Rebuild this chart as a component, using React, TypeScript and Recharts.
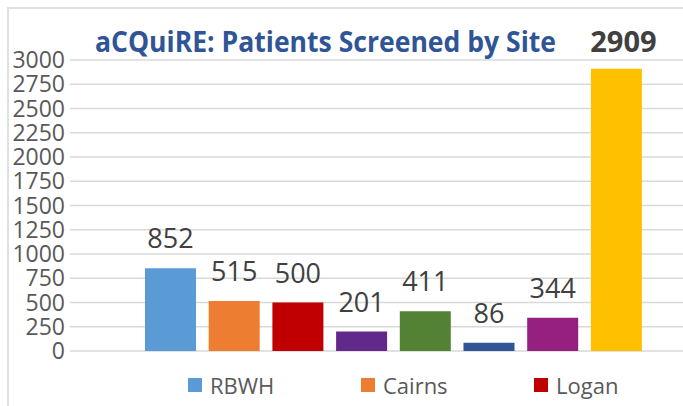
import { BarChart, Bar, XAxis, YAxis, CartesianGrid, LabelList, Legend } from "recharts";

// only the first three sites are visible in the legend, the rest run off the right edge
const sites = ["RBWH", "Cairns", "Logan", "Site 4", "Site 5", "Site 6", "Site 7", "Total"];
const screened = [852, 515, 500, 201, 411, 86, 344, 2909];
const siteColors = ["#5B9BD5", "#ED7D31", "#C00000", "#60298A", "#548235", "#2F5597", "#95207F", "#FFC000"];
const yTicks = [0, 250, 500, 750, 1000, 1250, 1500, 1750, 2000, 2250, 2500, 2750, 3000];

const row: Record<string, string | number> = { group: "Screened" };
sites.forEach((s, i) => {
  row[s] = screened[i];
});
const chartData = [row];

const font = "'Open Sans', 'Noto Sans', sans-serif";

// keep the series order (recharts sorts legend items by name otherwise)
const SiteLegend = () => (
  <div style={{ display: "flex", whiteSpace: "nowrap", fontFamily: font }}>
    {sites.map((s, i) => (
      <div
        key={s}
        style={{ width: 173, flexShrink: 0, display: "flex", alignItems: "center", height: 30 }}
      >
        <span
          style={{ width: 14, height: 14, marginRight: 8, flexShrink: 0, backgroundColor: siteColors[i] }}
        />
        <span style={{ fontSize: 22, color: "#595959" }}>{s}</span>
      </div>
    ))}
  </div>
);

const App = () => {
  const lastIdx = sites.length - 1;
  return (
    <div
      style={{
        position: "fixed",
        left: 0,
        top: 0,
        width: 683,
        height: 406,
        overflow: "hidden",
        background: "#fff",
        fontFamily: font,
      }}
    >
      <div
        style={{
          position: "absolute",
          left: 7,
          top: 7,
          width: 800,
          height: 500,
          borderLeft: "2px solid #E0E0E0",
          borderTop: "2px solid #E0E0E0",
        }}
      />
      <div style={{ position: "absolute", left: 0, top: 0 }}>
        <BarChart
          width={800}
          height={406}
          data={chartData}
          margin={{ top: 60, right: 83, bottom: 55, left: 0 }}
          barGap={12.7}
          barSize={51}
        >
          <CartesianGrid vertical={false} stroke="#D9D9D9" strokeWidth={1.5} />
          <XAxis dataKey="group" hide />
          <YAxis
            width={70}
            domain={[0, 3000]}
            ticks={yTicks}
            interval={0}
            axisLine={false}
            tickLine={false}
            tickSize={0}
            tickMargin={5}
            tick={{ fontSize: 23, fill: "#595959", fontFamily: font }}
          />
          <Legend
            layout="horizontal"
            verticalAlign="middle"
            align="center"
            wrapperStyle={{ left: 188, top: 370, width: 1500 }}
            content={SiteLegend}
          />
          {sites.map((s, i) => (
            <Bar key={s} dataKey={s} name={s} fill={siteColors[i]} isAnimationActive={false}>
              <LabelList
                dataKey={s}
                position="top"
                offset={i === lastIdx ? 17 : 20}
                dx={i === lastIdx ? 7 : 0}
                fill="#404040"
                fontSize={i === lastIdx ? 29 : 27}
                fontWeight={i === lastIdx ? 700 : 400}
                fontFamily={font}
              />
            </Bar>
          ))}
        </BarChart>
      </div>
      <svg
        width={683}
        height={80}
        style={{ position: "absolute", left: 0, top: 0, pointerEvents: "none" }}
      >
        <text
          x={95}
          y={52}
          fill="#2F5597"
          fontSize={28}
          fontWeight={700}
          fontFamily={font}
          textLength={461}
          lengthAdjust="spacingAndGlyphs"
        >
          aCQuiRE: Patients Screened by Site
        </text>
      </svg>
    </div>
  );
};

export default App;
